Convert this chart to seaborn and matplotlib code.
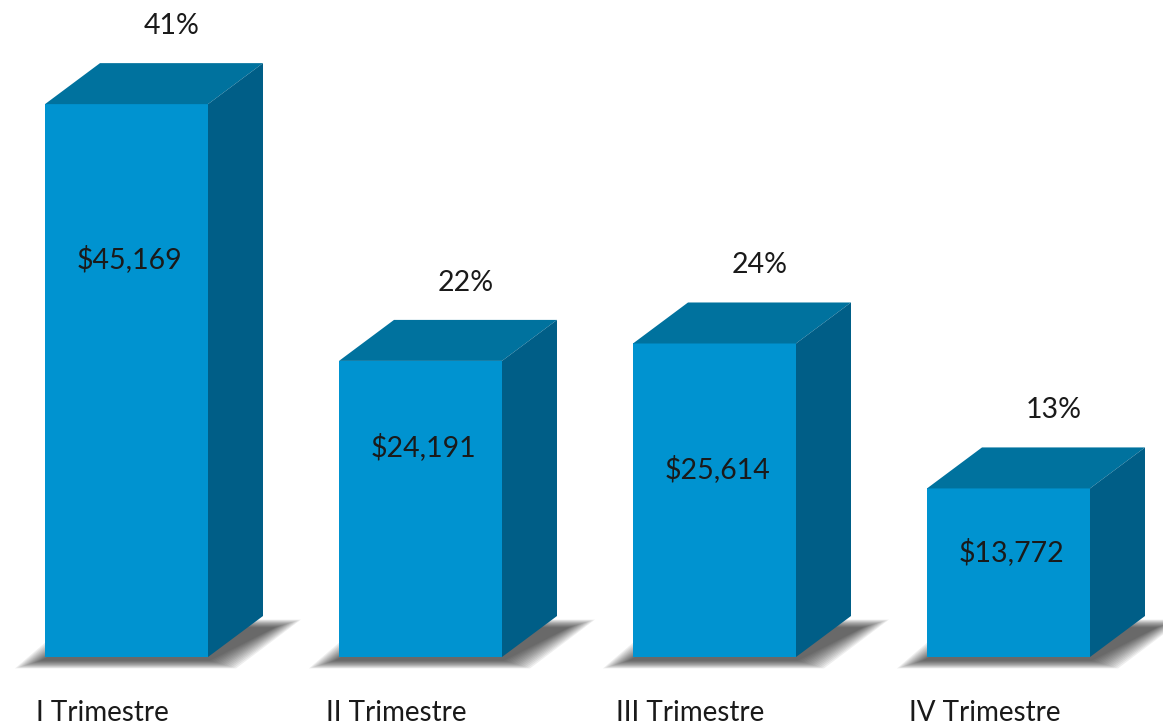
import matplotlib
matplotlib.use("Agg")
import matplotlib.pyplot as plt
from matplotlib.patches import Polygon
import seaborn as sns
import pandas as pd
import numpy as np

categories = ["I Trimestre", "II Trimestre", "III Trimestre", "IV Trimestre"]
values = [45169, 24191, 25614, 13772]
value_labels = ["$45,169", "$24,191", "$25,614", "$13,772"]
pct_labels = ["41%", "22%", "24%", "13%"]
label_frac = [0.72, 0.71, 0.60, 0.62]

FRONT = "#0093D0"
TOP = "#00729E"
SIDE = "#005E87"
TXT = "#1a1a1a"

sns.set_theme(style="white")
plt.rcParams["font.family"] = ["Lato", "DejaVu Sans"]

W, H = 1163, 728
fig = plt.figure(figsize=(W / 100, H / 100), dpi=100)
ax = fig.add_axes([0, 0, 1, 1])

df = pd.DataFrame({"cat": categories, "val": values})
bw = 163 / 294
sns.barplot(data=df, x="cat", y="val", color=FRONT, saturation=1, width=bw,
            ax=ax, zorder=3, linewidth=0)

# pixel -> data scale
px_x = 1 / 294.0
px_y = 1000 / 12.24
ax.set_xlim(-126.5 * px_x, (W - 126.5) * px_x)
ax.set_ylim(-71 * px_y, (H - 71) * px_y)
ax.axis("off")

dx = 55 * px_x
dy = 41 * px_y

for i, v in enumerate(values):
    x0 = i - bw / 2
    x1 = i + bw / 2
    # soft shadow
    n = 14
    for k in range(n, 0, -1):
        e = k * 2.0
        ex = e * px_x
        ey = e * 0.3 * px_y
        pts = [(x0 - ex - 2 * px_x, -ey - 3 * px_y), (x1 + ex, -ey - 3 * px_y),
               (x1 + dx + ex + 10 * px_x, dy + ey - 12 * px_y),
               (x0 + dx - ex, dy + ey - 12 * px_y)]
        ax.add_patch(Polygon(pts, closed=True, facecolor="#1a1a1a",
                             alpha=0.07, linewidth=0, zorder=1))
    # top face
    top = [(x0, v), (x1, v), (x1 + dx, v + dy), (x0 + dx, v + dy)]
    ax.add_patch(Polygon(top, closed=True, facecolor=TOP, linewidth=0, zorder=4))
    # side face
    side = [(x1, 0), (x1 + dx, dy), (x1 + dx, v + dy), (x1, v)]
    ax.add_patch(Polygon(side, closed=True, facecolor=SIDE, linewidth=0, zorder=4))

    ax.text(i + 3 * px_x, v * label_frac[i], value_labels[i], ha="center", va="center",
            fontsize=20.5, color=TXT, zorder=5)
    ax.text(i + 45 * px_x, v + dy + 37 * px_y, pct_labels[i], ha="center", va="center",
            fontsize=20.5, color=TXT, zorder=5)
    ax.text(i - 24 * px_x, -56 * px_y, categories[i], ha="center", va="center",
            fontsize=20, color=TXT, zorder=5)

fig.savefig("out.png", dpi=100, facecolor="white")
